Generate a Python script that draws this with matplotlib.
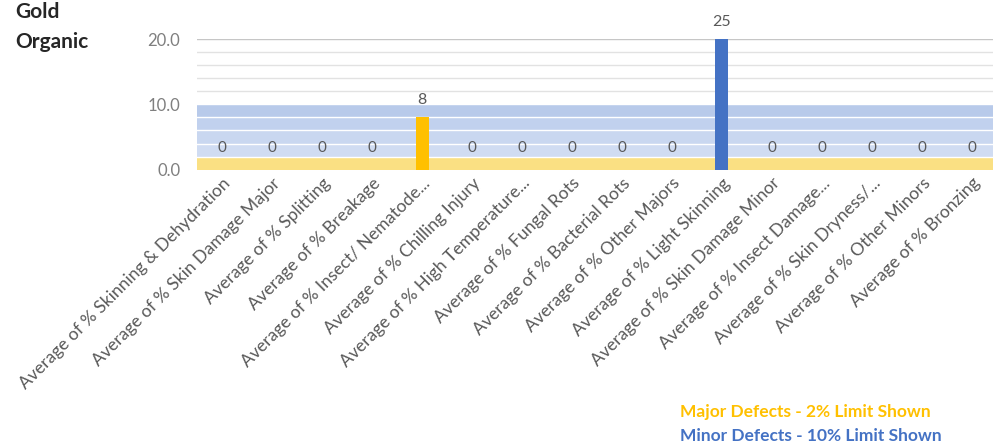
import matplotlib
matplotlib.use("Agg")
import matplotlib.pyplot as plt

categories = [
    "Average of % Skinning & Dehydration",
    "Average of % Skin Damage Major",
    "Average of % Splitting",
    "Average of % Breakage",
    "Average of % Insect/ Nematode...",
    "Average of % Chilling Injury",
    "Average of % High Temperature...",
    "Average of % Fungal Rots",
    "Average of % Bacterial Rots",
    "Average of % Other Majors",
    "Average of % Light Skinning",
    "Average of % Skin Damage Minor",
    "Average of % Insect Damage...",
    "Average of % Skin Dryness/...",
    "Average of % Other Minors",
    "Average of % Bronzing",
]
values = [0, 0, 0, 0, 8, 0, 0, 0, 0, 0, 25, 0, 0, 0, 0, 0]
defect_type = ["major"] * 10 + ["minor"] * 6
major_limit = 2
minor_limit = 10
yticks = [0, 10, 20]

YELLOW = "#ffc000"
BLUE = "#4472c4"
GRAY = "#595959"
FONT = "Lato"

fig = plt.figure(figsize=(9.93, 4.43), dpi=100)
ax = fig.add_axes([197 / 993, (443 - 169.5) / 443, 796 / 993, 130 / 443])

x = list(range(len(categories)))
ax.set_xlim(-0.5, 15.42)
ax.set_ylim(0, 20)

# limit bands (slightly graded like the reference)
band_cols = {8: "#b8caea", 6: "#c1d1ee", 4: "#c9d7f0", 2: "#d0dcf2"}
for lo, c in band_cols.items():
    ax.axhspan(lo, lo + 2, color=c, zorder=0, lw=0)
ax.axhspan(0, major_limit, color="#fae083", zorder=0.5, lw=0)

# gridlines
for g in range(2, 21, 2):
    if g <= minor_limit:
        ax.axhline(g, color="white", lw=1.0, zorder=1)
    else:
        ax.axhline(g, color="#e2e2e2" if g < 20 else "#c6c6c6", lw=1.0, zorder=1)

colors = [YELLOW if t == "major" else BLUE for t in defect_type]
ax.bar(x, values, width=0.26, color=colors, zorder=3, clip_on=True)

for xi, v in zip(x, values):
    if v == 0:
        ax.text(xi, 3.3, f"{v}", ha="center", va="center", fontsize=11,
                color=GRAY, family=FONT, zorder=4)
    else:
        ax.text(xi, min(v, 20) + 1.6, f"{v}", ha="center", va="bottom", fontsize=11.5,
                color=GRAY, family=FONT, zorder=4, clip_on=False)

ax.set_yticks(yticks)
ax.set_yticklabels([f"{t:.1f}" for t in yticks], fontsize=12, color="#7f7f7f", family=FONT)
ax.set_xticks(x)
ax.set_xticklabels(categories, rotation=45, ha="right", va="top", rotation_mode="anchor",
                   fontsize=12.6, color=GRAY, family=FONT)
ax.tick_params(axis="both", length=0)
ax.tick_params(axis="x", pad=4)
ax.tick_params(axis="y", pad=12)
for s in ax.spines.values():
    s.set_visible(False)

fig.text(15 / 993, 1 - 12 / 443, "Gold", fontsize=15, fontweight="bold", color="#262626",
         family=FONT, va="center", ha="left")
fig.text(15 / 993, 1 - 42 / 443, "Organic", fontsize=15, fontweight="bold", color="#262626",
         family=FONT, va="center", ha="left")

fig.text(680 / 993, 1 - 412 / 443, "Major Defects - 2% Limit Shown", fontsize=12.5,
         fontweight="bold", color=YELLOW, family=FONT, va="center", ha="left")
fig.text(680 / 993, 1 - 436 / 443, "Minor Defects - 10% Limit Shown", fontsize=12.5,
         fontweight="bold", color=BLUE, family=FONT, va="center", ha="left")

fig.savefig("out.png", dpi=100)
